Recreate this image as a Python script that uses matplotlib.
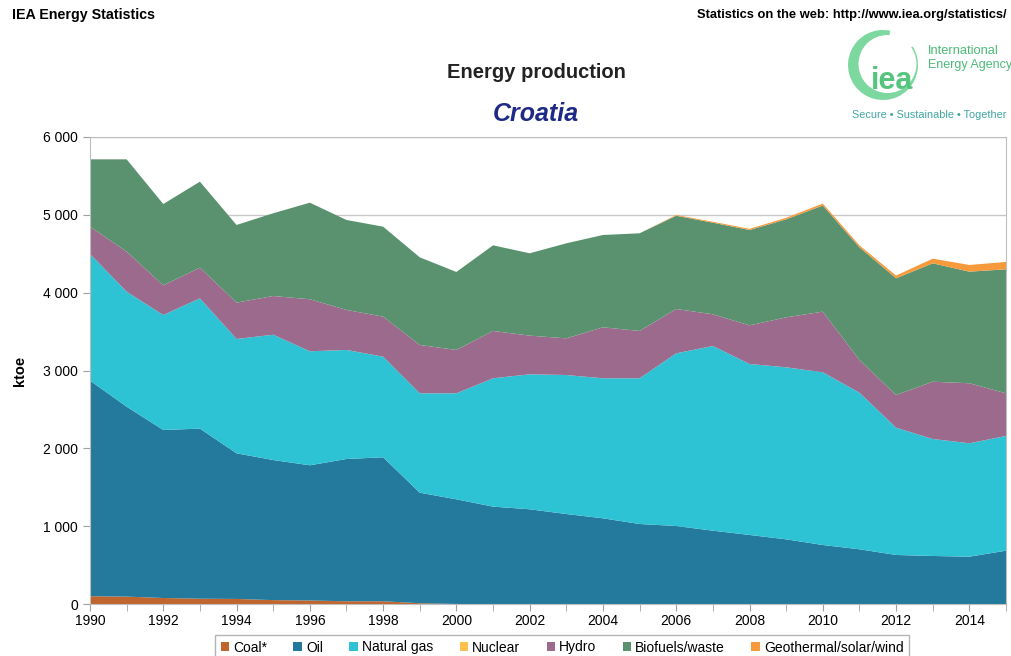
import numpy as np
import matplotlib
matplotlib.use("Agg")
import matplotlib.pyplot as plt
from matplotlib.patches import Patch, Wedge, Circle
from matplotlib.ticker import FuncFormatter, MultipleLocator

plt.rcParams['font.family'] = ['Liberation Sans', 'DejaVu Sans']

# --- data (ktoe) ---
years = list(range(1990, 2016))
coal = [100, 95, 77, 68, 65, 50, 45, 35, 35, 10, 0, 0, 0, 0, 0, 0, 0, 0, 0, 0, 0, 0, 0, 0, 0, 0]
oil = [2770, 2440, 2159, 2185, 1871, 1800, 1737, 1828, 1850, 1420, 1345, 1251, 1217, 1156, 1101,
       1028, 1002, 942, 887, 831, 758, 703, 630, 617, 608, 685]
gas = [1627, 1478, 1477, 1674, 1469, 1610, 1465, 1401, 1293, 1277, 1362, 1649, 1734, 1786, 1799,
       1872, 2219, 2373, 2197, 2210, 2219, 2012, 1635, 1503, 1457, 1474]
nuclear = [0] * 26
hydro = [351, 514, 381, 395, 467, 497, 668, 514, 514, 621, 557, 608, 497, 471, 655,
         608, 569, 407, 496, 642, 779, 420, 420, 736, 771, 548]
biofuels = [865, 1186, 1045, 1104, 998, 1063, 1241, 1156, 1156, 1126, 1002, 1100, 1058, 1221, 1186,
            1255, 1198, 1177, 1225, 1259, 1364, 1448, 1500, 1521, 1434, 1593]
geo = [0, 0, 0, 0, 0, 0, 0, 0, 0, 0, 0, 0, 0, 0, 0,
       0, 10, 12, 15, 20, 25, 25, 35, 60, 86, 95]

labels = ['Coal*', 'Oil', 'Natural gas', 'Nuclear', 'Hydro', 'Biofuels/waste', 'Geothermal/solar/wind']
colors = ['#C0652D', '#237A9C', '#2DC3D4', '#FFC04C', '#9C6A8C', '#5A9270', '#F79A3C']

fig = plt.figure(figsize=(10.12, 6.56), dpi=100)
ax = fig.add_axes([90 / 1012, 52 / 656, 916 / 1012, 467 / 656])

ax.stackplot(years, coal, oil, gas, nuclear, hydro, biofuels, geo, colors=colors, linewidth=0)

ax.set_xlim(1990, 2015)
ax.set_ylim(0, 6000)
ax.yaxis.set_major_locator(MultipleLocator(1000))
ax.yaxis.set_major_formatter(FuncFormatter(lambda v, p: f"{int(v):,}".replace(",", " ")))
ax.xaxis.set_major_locator(MultipleLocator(2))
ax.xaxis.set_minor_locator(MultipleLocator(1))
ax.grid(axis='y', color='#C8C8C8', linewidth=1)
ax.set_axisbelow(True)
for s in ax.spines.values():
    s.set_color('#BEBEBE')
ax.tick_params(axis='x', which='both', length=5, color='#A0A0A0', labelsize=10, pad=2)
ax.tick_params(axis='y', length=5, color='#A0A0A0', labelsize=10)
ax.set_ylabel('ktoe', fontsize=10.5, fontweight='bold', labelpad=12)

# headers
fig.text(12 / 1012, 1 - 15 / 656, 'IEA Energy Statistics', fontsize=10.3, fontweight='bold', va='center')
fig.text(1007 / 1012, 1 - 15 / 656, 'Statistics on the web: http://www.iea.org/statistics/',
         fontsize=9.3, fontweight='bold', va='center', ha='right')
fig.text(536 / 1012, 1 - 73 / 656, 'Energy production', fontsize=14.5, fontweight='bold',
         ha='center', va='center', color='#222222')
fig.text(536 / 1012, 1 - 114 / 656, 'Croatia', fontsize=18, fontweight='bold', style='italic',
         ha='center', va='center', color='#1F2A86')

# logo (approximation), drawn in pixel coordinates
lax = fig.add_axes([0, 0, 1, 1])
lax.set_xlim(0, 1012)
lax.set_ylim(0, 656)
lax.axis('off')
lax.add_patch(Wedge((883, 656 - 65), 35, 78, 392, color='#7DD8A0', linewidth=0))
lax.add_patch(Circle((887.5, 656 - 64), 29, color='white', linewidth=0))
lax.text(892, 656 - 81, 'iea', fontsize=22, fontweight='bold', color='#55C47C',
         ha='center', va='center')
lax.text(928, 656 - 51, 'International', fontsize=9.3, color='#4CBA7A', va='center')
lax.text(928, 656 - 65, 'Energy Agency', fontsize=9.0, color='#4CBA7A', va='center')
lax.text(852, 656 - 115, 'Secure \u2022 Sustainable \u2022 Together', fontsize=7.8, color='#3FA6A0',
         va='center')

handles = [Patch(facecolor=c, edgecolor='none') for c in colors]
fig.legend(handles, labels, loc='upper center', bbox_to_anchor=(562 / 1012, 1 - 628 / 656),
           ncol=7, fontsize=10, frameon=True, fancybox=False, edgecolor='#A0A0A0',
           handlelength=0.6, handleheight=0.6, handletextpad=0.3, columnspacing=1.9,
           borderpad=0.4)

fig.savefig('out.png', dpi=100)
